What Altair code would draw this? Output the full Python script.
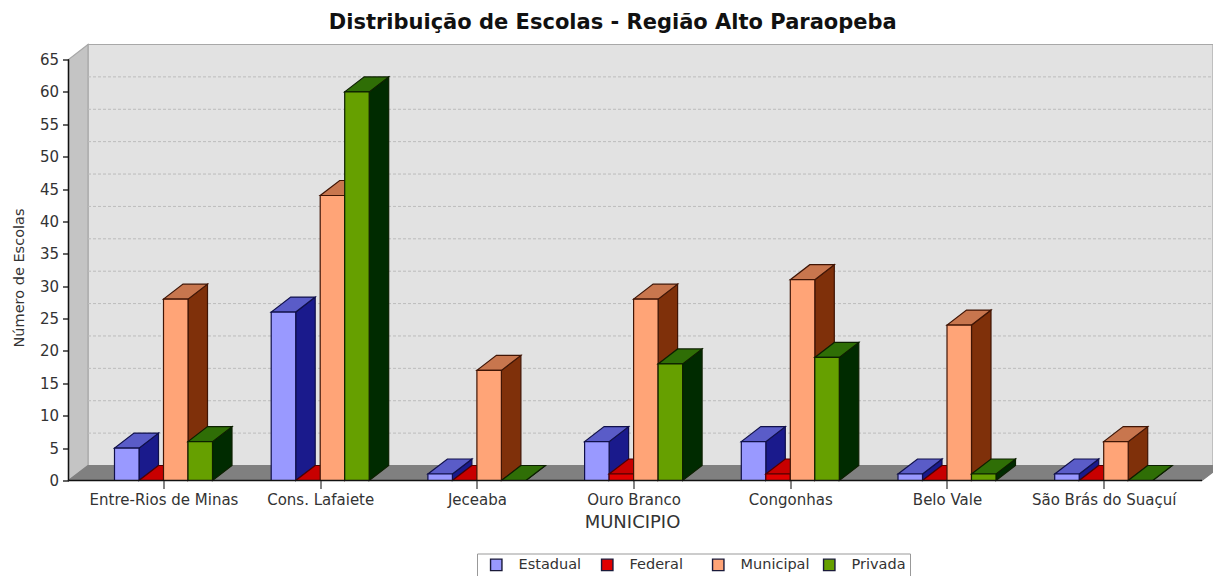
import altair as alt
import pandas as pd

categories = ["Entre-Rios de Minas", "Cons. Lafaiete", "Jeceaba", "Ouro Branco",
              "Congonhas", "Belo Vale", "São Brás do Suaçuí"]
series = ["Estadual", "Federal", "Municipal", "Privada"]
estadual = [5, 26, 1, 6, 6, 1, 1]
federal = [0, 0, 0, 1, 1, 0, 0]
municipal = [28, 44, 17, 28, 31, 24, 6]
privada = [6, 60, 0, 18, 19, 1, 0]
y_ticks = list(range(0, 70, 5))

front_colors = ["#9999ff", "#e00000", "#ffa477", "#66a000"]
top_colors = ["#5a5cc8", "#c80000", "#c8764e", "#2f6e06"]
side_colors = ["#1a1a8c", "#a00000", "#7f300a", "#002b00"]
edge_colors = ["#10104a", "#500000", "#401505", "#0c2000"]

PX_PER_CAT = 156.7
PX_PER_VAL = 6.477
ZERO_PX = 163.5           # pixel of first category centre
dx = 19.5 / PX_PER_CAT    # depth of the 3D projection in data units
dy = 15.0 / PX_PER_VAL
bar_w = 24.5 / PX_PER_CAT
x_left = (68.5 - ZERO_PX) / PX_PER_CAT
x_floor_right = (1202 - ZERO_PX) / PX_PER_CAT
x_right = (1213 - ZERO_PX) / PX_PER_CAT
y_top = 65 + dy

rows = []
pid = 0


def poly(points, fill, stroke):
    global pid
    pid += 1
    for x, y0, y1 in points:
        rows.append(dict(pid=pid, x=x, y0=y0, y1=y1, fill=fill, stroke=stroke))


all_values = [estadual, federal, municipal, privada]
for c in range(len(categories)):
    for s, vals in enumerate(all_values):
        v = vals[c]
        xl = c + (s - 2) * bar_w
        xr = xl + bar_w
        e = edge_colors[s]
        poly([(xr, 0, v), (xr + dx, dy, v + dy)], side_colors[s], e)
        poly([(xl, v, v), (xl + dx, v, v + dy), (xr, v, v + dy), (xr + dx, v + dy, v + dy)], top_colors[s], e)
        poly([(xl, 0, v), (xr, 0, v)], front_colors[s], e)
bars = pd.DataFrame(rows)

rows = []
poly([(x_left + dx, dy, y_top), (x_right, dy, y_top)], "#e2e2e2", "#a8a8a8")
poly([(x_left, 0, 65), (x_left + dx, dy, y_top)], "#c4c4c4", "#a8a8a8")
poly([(x_left, 0, 0), (x_left + dx, 0, dy), (x_floor_right, 0, dy), (x_right, dy * (x_right - x_floor_right) / dx, dy)],
     "#808080", "#808080")
walls = pd.DataFrame(rows)

label_map = "[" + ",".join(f"'{c}'" for c in categories) + "]"
x_scale = alt.Scale(domain=[x_left, x_right], nice=False, zero=False)
y_scale = alt.Scale(domain=[0, y_top], nice=False, zero=False)
FONT = "DejaVu Sans"

x_enc = alt.X(
    "x:Q", scale=x_scale,
    axis=alt.Axis(
        values=list(range(len(categories))), labelExpr=f"{label_map}[datum.value]",
        grid=False, domain=False, tickColor="#333333", tickSize=8, tickWidth=1.2,
        labelFont=FONT, labelFontSize=15, labelColor="#333333", labelPadding=4,
        labelOverlap=False, labelFlush=False, zindex=1,
        title="MUNICIPIO", titleFont=FONT, titleFontSize=18, titleFontWeight="normal",
        titleColor="#333333", titleX=632 - 68.5, titleY=33, titleAlign="center",
    ),
)
y_enc = alt.Y(
    "y0:Q", scale=y_scale,
    axis=alt.Axis(
        values=y_ticks, grid=False, domain=False, tickColor="#111111", tickSize=6, tickWidth=1.3,
        labelFont=FONT, labelFontSize=15, labelColor="#333333", labelPadding=4, zindex=1,
        title="Número de Escolas", titleFont=FONT, titleFontSize=14.5, titleFontWeight="normal",
        titleColor="#333333", titleX=-42, titleY=233, titleAlign="center",
    ),
)


def area_layer(df):
    return alt.Chart(df).mark_area(orient="vertical", strokeWidth=1.2).encode(
        x=x_enc, y=y_enc, y2="y1:Q",
        fill=alt.Fill("fill:N", scale=None),
        stroke=alt.Stroke("stroke:N", scale=None),
        detail="pid:N",
    )


grid_df = pd.DataFrame({"x": x_left + dx, "x2": x_right, "y0": [t + dy for t in y_ticks[1:-1]]})
grid = alt.Chart(grid_df).mark_rule(color="#bcbcbc", strokeDash=[3, 2], strokeWidth=1).encode(
    x=x_enc, x2="x2:Q", y=y_enc,
)

axis_df = pd.DataFrame({"x": [x_left, x_left], "x2": [x_floor_right, x_left], "y0": [0, 0], "y2": [0, 65]})
axes = alt.Chart(axis_df).mark_rule(color="#111111", strokeWidth=1.5).encode(
    x=x_enc, x2="x2:Q", y=y_enc, y2="y2:Q",
)

legend_df = pd.DataFrame({"s": series, "x": [x_left] * 4, "y0": [0] * 4})
legend = alt.Chart(legend_df).mark_point(filled=True, size=0).encode(
    x=x_enc,
    y=y_enc,
    color=alt.Color(
        "s:N",
        scale=alt.Scale(domain=series, range=front_colors),
        legend=alt.Legend(
            title=None, orient="none", legendX=477 - 68.5, legendY=509, direction="horizontal",
            columns=4, gridAlign="all", symbolType="square", symbolSize=130, symbolStrokeWidth=1.4,
            symbolOpacity=1, symbolOffset=8,
            symbolStrokeColor="#1a1a3a", labelFont=FONT, labelFontSize=14.5, labelColor="#333333",
            labelOffset=15, columnPadding=4, padding=4, strokeColor="#999999", fillColor="#ffffff",
        ),
    ),
)

chart = alt.layer(area_layer(walls), grid, area_layer(bars), axes, legend).properties(
    width=1144.5,
    height=436,
    title=alt.TitleParams(
        "Distribuição de Escolas - Região Alto Paraopeba", font=FONT, fontSize=21, fontWeight="bold",
        color="#111111", anchor="middle", dx=-28, offset=9,
    ),
    padding={"left": 60.5, "top": 36.5, "right": 0, "bottom": 95},
    autosize=alt.AutoSizeParams(type="none"),
).configure_view(stroke=None)

chart.save("out.html", embed_options={"renderer": "svg", "actions": False})
